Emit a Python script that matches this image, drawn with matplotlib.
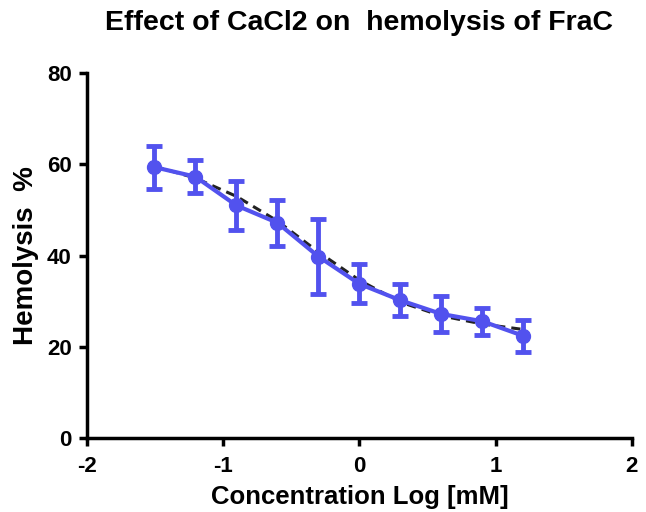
import numpy as np
import matplotlib
matplotlib.use('Agg')
import matplotlib.pyplot as plt

plt.rcParams['font.family'] = ['Liberation Sans', 'DejaVu Sans']
plt.rcParams['font.weight'] = 'bold'
plt.rcParams['axes.unicode_minus'] = False

# Log10 concentration [mM] and mean hemolysis (%) with SD
log_conc = [-1.505, -1.204, -0.903, -0.602, -0.301, 0.0, 0.301, 0.602, 0.903, 1.204]
hemolysis = [59.4, 57.3, 51.0, 47.2, 39.8, 33.8, 30.2, 27.2, 25.6, 22.4]
sd = [4.7, 3.6, 5.3, 5.1, 8.3, 4.3, 3.5, 3.9, 3.0, 3.5]

# Fitted curve (dashed)
fit_x = [-1.505, -1.204, -0.903, -0.602, -0.301, 0.0, 0.301, 0.602, 0.903, 1.204]
fit_y = [59.6, 57.0, 53.0, 47.6, 40.8, 34.6, 29.8, 26.8, 25.0, 23.8]

blue = '#5252EE'

fig = plt.figure(figsize=(6.46, 5.12), dpi=100)
ax = fig.add_axes([0.1347, 0.1445, 0.978 - 0.1347, 0.857 - 0.1445])

ax.plot(fit_x, fit_y, color='#222222', linestyle=(0, (3, 2)), linewidth=2.2, zorder=2)
ax.errorbar(log_conc, hemolysis, yerr=sd, color=blue, marker='o', markersize=10,
            linewidth=3, elinewidth=3.5, capsize=6, capthick=3.5, zorder=3)

ax.set_xlim(-2, 2)
ax.set_ylim(0, 80)
ax.set_xticks([-2, -1, 0, 1, 2])
ax.set_yticks([0, 20, 40, 60, 80])

for s in ['top', 'right']:
    ax.spines[s].set_visible(False)
for s in ['left', 'bottom']:
    ax.spines[s].set_linewidth(2.5)
ax.tick_params(width=2.5, length=6, labelsize=16, direction='out')
ax.tick_params(axis='x', pad=7)
ax.tick_params(axis='y', pad=5)
for lab in ax.get_xticklabels() + ax.get_yticklabels():
    lab.set_fontweight('bold')

ax.set_xlabel('Concentration Log [mM]', fontsize=18.5, fontweight='bold', labelpad=6)
ax.set_ylabel('Hemolysis  %', fontsize=20, fontweight='bold', labelpad=6)
fig.text(0.555, 0.955, 'Effect of CaCl2 on  hemolysis of FraC', ha='center', va='center',
         fontsize=20.5, fontweight='bold')

fig.savefig('out.png', dpi=100)
